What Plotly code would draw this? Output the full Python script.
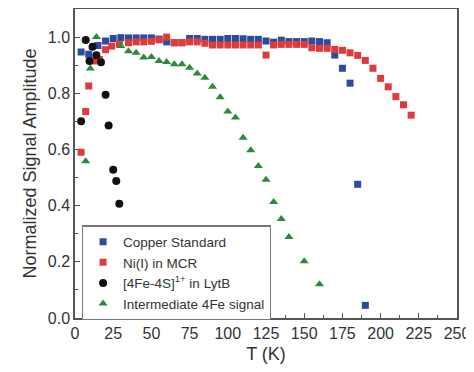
import plotly.graph_objects as go

# Copper Standard
cu_T = [4, 9, 15, 20, 25, 30, 35, 40, 45, 50, 55, 60, 65, 70, 75, 80, 85, 90, 95, 100,
        105, 110, 115, 120, 125, 130, 135, 140, 145, 150, 155, 160, 165, 170, 175, 180, 185, 190]
cu_v = [0.947, 0.939, 0.970, 0.986, 0.995, 0.998, 0.997, 0.997, 0.997, 0.997, 0.993, 0.983,
        0.980, 0.980, 0.995, 0.995, 0.992, 0.992, 0.992, 0.995, 0.995, 0.994, 0.992, 0.992,
        0.986, 0.982, 0.989, 0.984, 0.984, 0.984, 0.986, 0.984, 0.980, 0.936, 0.889, 0.836,
        0.476, 0.045]

# Ni(I) in MCR
ni_T = [4, 7, 9, 12, 16, 20, 24, 29, 35, 40, 45, 50, 55, 60, 65, 70, 75, 80, 85, 90, 95,
        100, 105, 110, 115, 120, 125, 130, 135, 140, 145, 150, 155, 160, 165, 170, 175, 180,
        185, 190, 195, 200, 205, 210, 215, 220]
ni_v = [0.590, 0.735, 0.826, 0.915, 0.920, 0.955, 0.968, 0.975, 0.980, 0.983, 0.983, 0.985,
        0.990, 1.000, 0.980, 0.980, 0.983, 0.983, 0.978, 0.972, 0.972, 0.972, 0.972, 0.972,
        0.972, 0.972, 0.936, 0.972, 0.974, 0.974, 0.974, 0.974, 0.962, 0.960, 0.960, 0.956,
        0.953, 0.944, 0.935, 0.917, 0.889, 0.853, 0.823, 0.788, 0.759, 0.722]

# [4Fe-4S]1+ in LytB
fe_T = [4, 7, 9.5, 11.5, 14, 17, 20, 22, 25, 27, 29]
fe_v = [0.700, 0.990, 0.915, 0.966, 0.935, 0.910, 0.795, 0.685, 0.528, 0.488, 0.407]

# Intermediate 4Fe signal
im_T = [7, 10, 14, 30, 35, 40, 45, 50, 55, 60, 65, 70, 75, 80, 85, 90, 95, 100, 105, 110,
        115, 120, 125, 130, 135, 140, 150, 160]
im_v = [0.558, 0.888, 1.000, 0.968, 0.950, 0.944, 0.927, 0.929, 0.915, 0.911, 0.903, 0.903,
        0.891, 0.870, 0.855, 0.823, 0.786, 0.735, 0.714, 0.642, 0.597, 0.541, 0.492, 0.413,
        0.352, 0.288, 0.202, 0.120]

x_ticks = [0, 25, 50, 75, 100, 125, 150, 175, 200, 225, 250]
y_ticks = [0.0, 0.2, 0.4, 0.6, 0.8, 1.0]
y_tick_labels = ["0.0", "0.2", "0.4", "0.6", "0.8", "1.0"]

FONT = "Liberation Sans, Arial"

fig = go.Figure()
fig.add_trace(go.Scatter(x=cu_T, y=cu_v, mode="markers", name="Copper Standard",
                         marker=dict(symbol="square", size=7, color="#2d4b9e")))
fig.add_trace(go.Scatter(x=ni_T, y=ni_v, mode="markers", name="Ni(I) in MCR",
                         marker=dict(symbol="square", size=7, color="#e03b3b")))
fig.add_trace(go.Scatter(x=fe_T, y=fe_v, mode="markers", name="[4Fe-4S]<sup>1+</sup> in LytB",
                         marker=dict(symbol="circle", size=8, color="#111111")))
fig.add_trace(go.Scatter(x=im_T, y=im_v, mode="markers", name="Intermediate 4Fe signal",
                         marker=dict(symbol="triangle-up", size=8, color="#2a8b3c")))

axis_common = dict(showline=True, linecolor="#555555", linewidth=1.5, mirror=True,
                   ticks="inside", ticklen=5, tickcolor="#555555", tickwidth=1.2,
                   showgrid=False, zeroline=False, automargin=False,
                   tickfont=dict(family=FONT, size=16, color="#333333"))

# page body has an 8px default margin, so the figure is sized to fit the window
fig.update_layout(
    width=466, height=364,
    margin=dict(l=67, r=17, t=1, b=54),
    paper_bgcolor="white", plot_bgcolor="white",
    font=dict(family=FONT, color="#333333"),
    showlegend=True,
    legend=dict(x=0.018, y=0.3, xanchor="left", yanchor="top",
                bordercolor="#777777", borderwidth=1.2, bgcolor="white",
                font=dict(family=FONT, size=13.5, color="#333333"),
                tracegroupgap=0, itemwidth=30),
    xaxis=dict(range=[0, 250], tickvals=x_ticks,
               minor=dict(ticks="inside", ticklen=3, tickcolor="#555555", dtick=12.5),
               title=dict(text="T (K)", font=dict(size=18), standoff=6),
               **axis_common),
    yaxis=dict(range=[0, 1.1], tickvals=y_ticks, ticktext=y_tick_labels,
               minor=dict(ticks="inside", ticklen=3, tickcolor="#555555", dtick=0.1),
               title=dict(text="Normalized Signal Amplitude", font=dict(size=18), standoff=6),
               **axis_common),
)

fig.write_html("out.html")
